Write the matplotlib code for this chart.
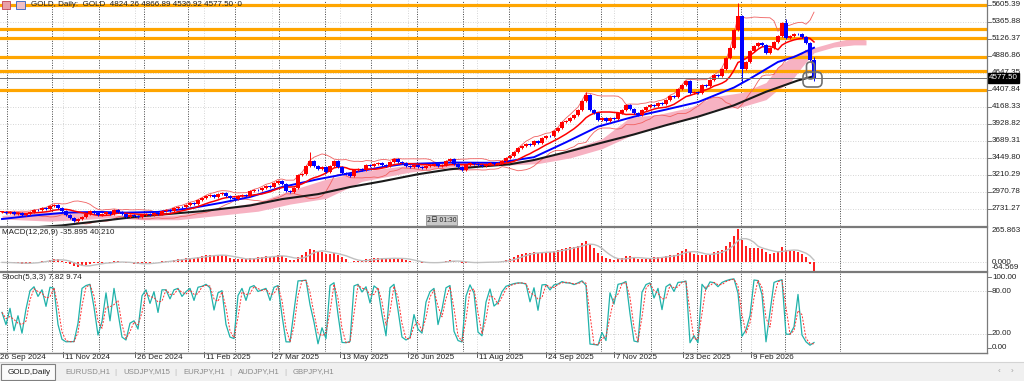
import numpy as np
import pandas as pd
import matplotlib
matplotlib.use("Agg")
import matplotlib.pyplot as plt
from matplotlib.patches import Rectangle, FancyBboxPatch
from matplotlib.transforms import blended_transform_factory as blend

W, H = 1024, 381
plt.rcParams['font.family'] = ['Liberation Sans', 'DejaVu Sans']

# closes, one candle per two daily bars (26 Sep 2024 .. Mar 2026)
closes = [
    2690, 2675, 2685, 2660, 2670, 2645, 2660, 2690, 2720, 2710, 2740, 2730, 2780, 2790, 2745, 2700,
    2650, 2610, 2565, 2590, 2625, 2655, 2700, 2670, 2650, 2665, 2685, 2660, 2720, 2690, 2655, 2620, 2640, 2630,
    2615, 2640, 2665, 2650, 2680, 2665, 2700, 2715, 2705, 2750, 2765, 2755, 2790, 2815, 2800, 2860, 2880,
    2910, 2925, 2905, 2940, 2950, 2915, 2885, 2870, 2910, 2930, 2915, 2980, 3005, 2995, 3030, 3055, 3040,
    3100, 3130, 3080, 2990, 2975, 3030, 3210, 3230, 3330, 3400, 3330, 3290, 3315, 3250, 3340, 3400, 3320,
    3240, 3230, 3190, 3275, 3300, 3285, 3350, 3330, 3370, 3385, 3355, 3330, 3395, 3440, 3390, 3375, 3340,
    3320, 3345, 3320, 3305, 3335, 3345, 3365, 3340, 3355, 3405, 3430, 3365, 3320, 3285, 3350, 3385, 3370,
    3350, 3330, 3360, 3385, 3365, 3380, 3405, 3445, 3480, 3530, 3590, 3620, 3645, 3630, 3685, 3660, 3730,
    3765, 3755, 3830, 3870, 3950, 3975, 4010, 4055, 4120, 4250, 4340, 4120, 4085, 3990, 4010, 3975, 4010,
    4000, 4085, 4130, 4200, 4140, 4080, 4055, 4130, 4160, 4200, 4185, 4220, 4205, 4260, 4320, 4305, 4420, 4480,
    4530, 4360, 4380, 4360, 4470, 4460, 4540, 4610, 4600, 4700, 4850, 5000, 5250, 5450, 4700, 4800, 4950,
    5020, 5060, 5040, 4920, 4990, 5080, 5160, 5350, 5130, 5170, 5200, 5190, 5150, 5060, 4824.26, 4577.50,
]
spike_k = [72, 77, 146, 184, 185, 196, 203]
spike_hi = [np.nan, 3530, 4380, 5630, np.nan, 5400, 4866.89]
spike_lo = [2960, np.nan, np.nan, np.nan, 4520, np.nan, 4530.92]

blue_k = [0, 8, 16, 24, 31, 39, 47, 55, 62, 70, 79, 87, 95, 100, 112, 124, 133, 141, 149, 158, 166, 174, 183, 187, 194, 198, 203]
blue_ma = [2590, 2640, 2680, 2690, 2680, 2690, 2740, 2820, 2900, 3040, 3150, 3235, 3320, 3360, 3385, 3380, 3460,
           3670, 3890, 4030, 4130, 4235, 4440, 4565, 4800, 4870, 5000]
black_k = [0, 15, 35, 50, 62, 70, 79, 87, 95, 104, 112, 120, 127, 133, 141, 149, 158, 166, 174, 183, 191, 199, 203]
black_ma = [2440, 2500, 2630, 2700, 2780, 2870, 2940, 3040, 3120, 3220, 3290, 3330, 3360, 3420, 3530, 3650,
            3780, 3910, 4030, 4190, 4380, 4540, 4600]
cloud_k = [0, 12, 20, 27, 35, 44, 54, 64, 72, 81, 90, 102, 112, 127, 134, 142, 150, 157, 164, 172, 178, 185,
           191, 194, 197, 200, 203, 208, 213, 216]
cloud_top = [2640, 2690, 2690, 2650, 2630, 2650, 2730, 2830, 2990, 3150, 3260, 3350, 3390, 3400, 3430, 3570,
             3720, 4020, 4060, 4160, 4310, 4370, 4510, 4730, 4850, 4930, 5000, 5080, 5140, 5110]
cloud_bot = [2590, 2560, 2580, 2610, 2580, 2580, 2640, 2700, 2800, 2880, 3120, 3250, 3320, 3350, 3370, 3450,
             3580, 3760, 3900, 4000, 4130, 4170, 4270, 4410, 4510, 4730, 4930, 5010, 5040, 5040]

levels = [5605, 5260, 5130, 4865, 4670, 4405]
price_ticks = [5605.39, 5365.88, 5126.37, 4886.86, 4647.35, 4407.84, 4168.33, 3928.82, 3689.31,
               3449.80, 3210.29, 2970.78, 2731.27]
bid = 4577.50
dates = ["26 Sep 2024", "11 Nov 2024", "26 Dec 2024", "11 Feb 2025", "27 Mar 2025", "13 May 2025",
         "26 Jun 2025", "11 Aug 2025", "24 Sep 2025", "7 Nov 2025", "23 Dec 2025", "9 Feb 2026"]
date_k = [-1.75, 15.25, 33.25, 50.5, 67.5, 84.5, 101.5, 118.75, 136, 153, 170.25, 187.25]
month_sep = [1.25, 12.5, 24.25, 35.5, 46.5, 58.25, 69.25, 80.75, 92.25, 103.75, 115.25, 126.75, 138.25,
             149.75, 162.25, 173.75, 184.75, 195.75, 209.5]
tabs = ["EURUSD,H1", "USDJPY,M15", "EURJPY,H1", "AUDJPY,H1", "GBPJPY,H1"]

WICK = 14  # drawn shadow beyond the body, in $

# ---- derived series
c = pd.Series(closes, dtype=float)
o = c.shift(1).fillna(c.iloc[0])
hi = np.maximum(o, c).values + WICK
lo = np.minimum(o, c).values - WICK
for k, h_, l_ in zip(spike_k, spike_hi, spike_lo):
    if not np.isnan(h_):
        hi[k] = h_
    if not np.isnan(l_):
        lo[k] = l_
kk = np.arange(len(c))

ma_red = c.rolling(10, min_periods=1).mean()
sd = c.rolling(10, min_periods=2).std(ddof=0)
bb_up, bb_dn = ma_red + 2 * sd, ma_red - 2 * sd

macd = c.ewm(span=6, adjust=False).mean() - c.ewm(span=13, adjust=False).mean()
macd_sig = macd.rolling(5, min_periods=1).mean()

hh = pd.Series(hi).rolling(3, min_periods=1).max()
ll = pd.Series(lo).rolling(3, min_periods=1).min()
st_k = (100 * (c - ll) / (hh - ll).replace(0, np.nan)).fillna(50)
st_d = st_k.rolling(2, min_periods=1).mean()

# ---- figure
fig = plt.figure(figsize=(W / 100, H / 100), dpi=100)
fig.patch.set_facecolor('white')


def px_axes(x0, y0, x1, y1):
    a = fig.add_axes([x0 / W, 1 - y1 / H, (x1 - x0) / W, (y1 - y0) / H])
    a.set_xlim(-0.5, 987 / 4 - 0.5)
    a.set_xticks([])
    a.set_yticks([])
    for s in a.spines.values():
        s.set_visible(False)
    return a


ax = px_axes(0, 0, 987, 226)
ax2 = px_axes(0, 227, 987, 271)
ax3 = px_axes(0, 273, 987, 352)
ax.set_ylim(2491.7, 5671.5)
ax2.set_ylim(-64.569, 265.863)
ax3.set_ylim(-6.1, 105.9)

for a in (ax, ax2, ax3):
    for x in date_k[1:]:
        a.axvline(x, color='#c8c8c8', lw=0.6, ls=(0, (1, 2)), zorder=0)
    for x in month_sep:
        a.axvline(x, color='#404040', lw=0.7, ls=(0, (1, 1.5)), zorder=0.5)

lbl = dict(fontsize=5.8, color='#202020', va='center', ha='left', clip_on=False)

# main panel
for p in price_ticks:
    ax.axhline(p, color='#c8c8c8', lw=0.6, ls=(0, (1, 2)), zorder=0)
    tr = blend(ax.transAxes, ax.transData)
    ax.plot([1.0, 1.004], [p, p], color='#606060', lw=0.6, transform=tr, clip_on=False)
    ax.text(1.005, p, f"{p:.2f}", transform=tr, **lbl)

ax.fill_between(cloud_k, cloud_bot, cloud_top, color='#f7b2c2', lw=0, zorder=1)
for lv in levels:
    ax.axhline(lv, color='#ffa500', lw=2.3, zorder=2)
ax.plot(kk, bb_up, color='#f06060', lw=0.6, zorder=3)
ax.plot(kk, bb_dn, color='#f06060', lw=0.6, zorder=3)
ax.plot(black_k, black_ma, color='#1a1a1a', lw=1.5, zorder=3)
ax.plot(blue_k, blue_ma, color='#0000ff', lw=1.4, zorder=3)
ax.plot(kk, ma_red, color='#ff0000', lw=1.1, zorder=3)

up = (c >= o).values
cols = np.where(up, '#ff0000', '#0000ff')
ax.vlines(kk, lo, hi, colors=cols, lw=0.7, zorder=4)
body = np.maximum(np.abs(c - o).values, 8)
ax.bar(kk, body, bottom=np.minimum(o, c).values, width=0.8, color=cols, lw=0, zorder=4)

ax.axhline(bid, color='#707070', lw=0.7, zorder=5)
ax.text(1.002, bid, f"{bid:.2f}", transform=blend(ax.transAxes, ax.transData), fontsize=5.8,
        color='white', va='center', ha='left', clip_on=False, zorder=10,
        bbox=dict(boxstyle='square,pad=0.18', fc='black', ec='black'))

# MACD panel
ax2.axhline(0, color='#c8c8c8', lw=0.6, ls=(0, (1, 2)), zorder=0)
ax2.bar(kk, macd.clip(-64.5, 265), width=0.6, color='#ff2020', lw=0, zorder=2)
ax2.plot(kk, macd_sig, color='#c0c0c0', lw=1.0, zorder=3)
tr2 = blend(ax2.transAxes, ax2.transData)
ax2.text(1.005, 265.863, "265.863", transform=tr2, **{**lbl, 'va': 'top'})
ax2.text(1.005, 0, "0.000", transform=tr2, **{**lbl, 'va': 'center'})
ax2.text(1.005, -64.569, "-64.569", transform=tr2, **{**lbl, 'va': 'bottom'})

# Stochastic panel
tr3 = blend(ax3.transAxes, ax3.transData)
for lv in (20, 80):
    ax3.axhline(lv, color='#c0c0c0', lw=0.6, ls=(0, (1, 2)), zorder=0)
ax3.plot(kk, st_k, color='#20b2aa', lw=0.9, zorder=3)
ax3.plot(kk, st_d, color='#ff3030', lw=0.7, ls=(0, (2, 1.5)), zorder=3)
for v in (100, 80, 20, 0):
    ax3.plot([1.0, 1.004], [v, v], color='#606060', lw=0.6, transform=tr3, clip_on=False)
    ax3.text(1.005, v, f"{v:.2f}", transform=tr3, **lbl)

trd = blend(ax3.transData, ax3.transAxes)
for i, (d, x) in enumerate(zip(dates, date_k)):
    if i:
        ax3.plot([x, x], [0, -0.06], color='#404040', lw=0.6, transform=trd, clip_on=False)
    ax3.text(max(x + 0.4, -0.5), -0.065, d, transform=trd, fontsize=5.8, color='#202020',
             va='center', ha='left', clip_on=False)

# overlay: frames, headers, tabs
ov = fig.add_axes([0, 0, 1, 1], zorder=20)
ov.set_xlim(0, W)
ov.set_ylim(H, 0)
ov.axis('off')
ov.patch.set_alpha(0)
for y in (226.5, 272.0):
    ov.plot([0, 987], [y, y], color='#7a7a7a', lw=1.6)
ov.plot([0, 987], [352.5, 352.5], color='#7a7a7a', lw=1.0)
ov.plot([987, 987], [0, 352.5], color='#7a7a7a', lw=0.9)

ov.add_patch(Rectangle((2, 1), 8, 8, fc='#e8a0a8', ec='#c04050', lw=0.6))
ov.add_patch(Rectangle((16, 1), 9, 8, fc='#f0c0c8', ec='#3060c0', lw=0.6))
ov.text(31, 5, "GOLD, Daily:  GOLD  4824.26 4866.89 4530.92 4577.50  0", fontsize=5.8,
        color='#202020', va='center', ha='left')
ov.text(2, 232.5, "MACD(12,26,9) -35.895 40.210", fontsize=5.8, color='#202020', va='center')
ov.text(2, 277.5, "Stoch(5,3,3) 7.82 9.74", fontsize=5.8, color='#202020', va='center')
ov.text(427, 219.8, "2日 01:30", fontsize=5, color='#303030', va='center', ha='left',
        family=['Noto Sans CJK JP', 'DejaVu Sans'],
        bbox=dict(boxstyle='square,pad=0.12', fc='#c8c8c8', ec='#808080', lw=0.5))

ov.add_patch(FancyBboxPatch((803, 72), 19, 15, boxstyle='round,pad=0,rounding_size=5',
                            fill=False, ec='#707070', lw=1.2))
ov.add_patch(FancyBboxPatch((806.5, 62), 8, 17, boxstyle='round,pad=0,rounding_size=4',
                            fill=False, ec='#707070', lw=1.2))

ov.add_patch(Rectangle((0, 362), W, 19, fc='#f0f0f0', ec='none'))
ov.plot([0, W], [362, 362], color='#d4d4d4', lw=0.8)
ov.add_patch(Rectangle((1, 364), 54, 16, fc='#fbfbfb', ec='#808080', lw=0.8))
ov.text(8, 372, "GOLD,Daily", fontsize=5.9, color='#202020', va='center', ha='left')
for t, x in zip(tabs, [65, 123, 183, 238, 293]):
    ov.text(x, 372, t, fontsize=5.6, color='#8a8a8a', va='center', ha='left')
for x in (115, 175, 230, 285):
    ov.text(x, 372, "|", fontsize=5.6, color='#b8b8b8', va='center', ha='center')
ov.text(999, 372, "‹", fontsize=6, color='#a0a0a0', va='center', ha='center')
ov.text(1012, 372, "›", fontsize=6, color='#a0a0a0', va='center', ha='center')

fig.savefig("out.png", dpi=100)
